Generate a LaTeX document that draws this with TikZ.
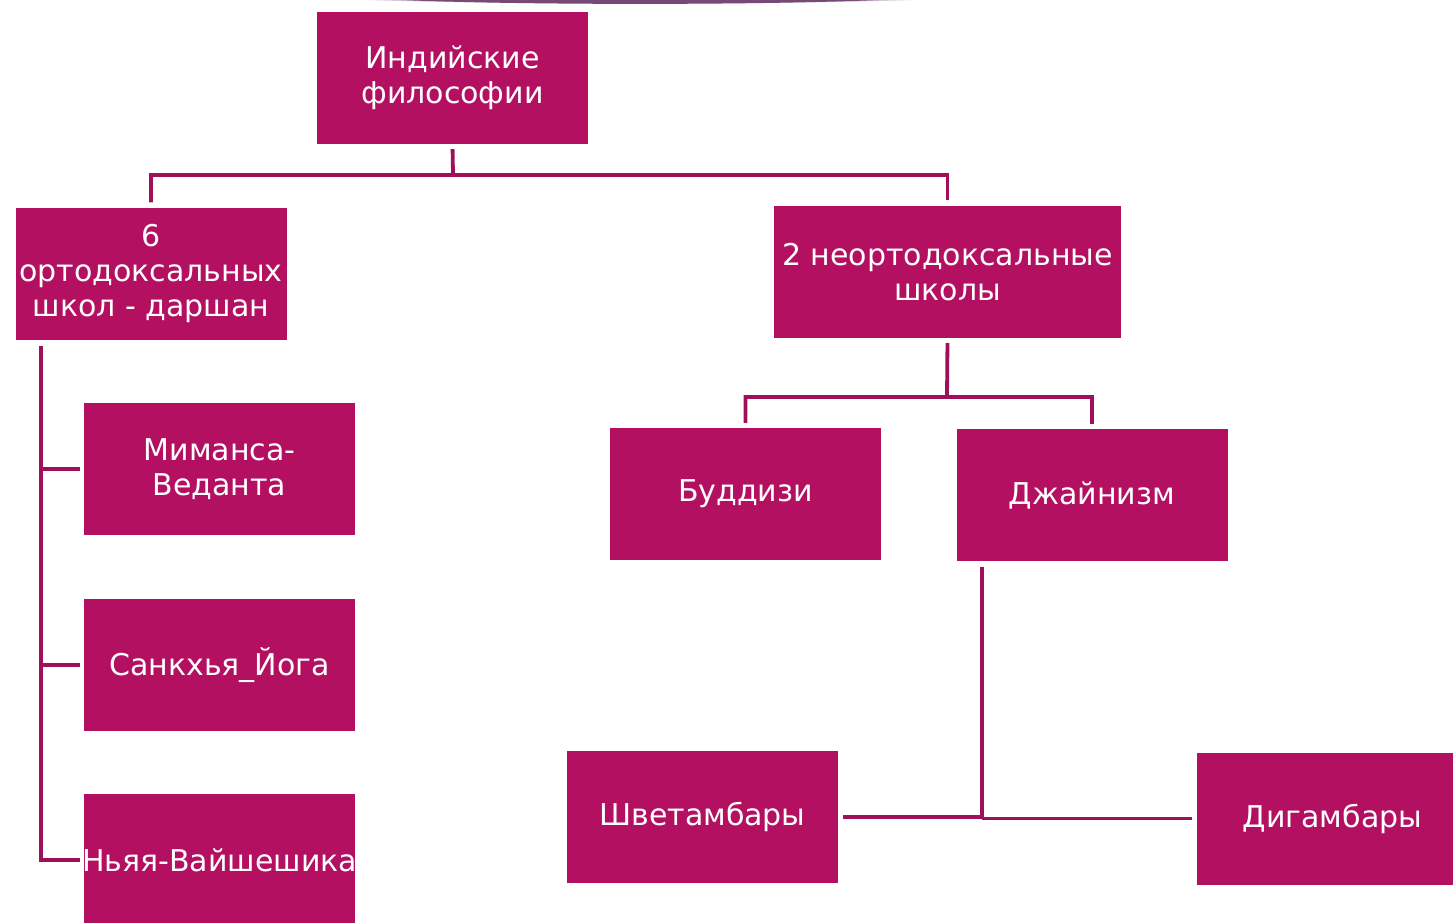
\documentclass[tikz,border=0pt]{standalone}
\usepackage{fontspec}
\setmainfont{DejaVu Sans}
\usepackage{tikz}
\usetikzlibrary{calc}
\definecolor{boxfill}{HTML}{B31062}
\definecolor{linkcol}{HTML}{A0105A}
\definecolor{arccol}{HTML}{5E2A5E}

\begin{document}
\begin{tikzpicture}[x=1pt, y=-1pt,
    school/.style={draw=none, fill=boxfill, text=white, align=center,
      minimum width=271pt, minimum height=132pt, inner sep=0pt,
      font=\fontsize{30}{35}\selectfont},
    link/.style={draw=linkcol, line width=3.8pt}]
    \clip (0,0) rectangle (1453,923);
    % slide decoration at the top
    \fill[arccol!25] (340,-1) -- (940,-1) .. controls (800,5) and (480,5) .. (340,-1);
    \fill[arccol!85] (380,-1) -- (900,-1) .. controls (780,5.5) and (500,5.5) .. (380,-1);
    \node[school] (IP) at (452.5,78) {Индийские\\философии};
    \node[school] (ORT) at (151,273.5) {6\\ортодоксальных\\школ - даршан};
    \node[school, minimum width=347pt] (NEO) at (947.5,272) {2 неортодоксальные\\школы};
    \node[school] (MV) at (219.5,469) {Миманса-\\Веданта};
    \node[school] (SY) at (219.5,665) {Санкхья\_Йога};
    \node[school] (NV) at (219.5,860) {\makebox[271pt]{Ньяя-Вайшешика}};
    \node[school] (BUD) at (745.5,494) {Буддизи};
    \node[school] (JAIN) at (1092,495) {Джайнизм};
    \node[school] (SHV) at (702.5,817) {Шветамбары};
    \node[school] (DIG) at (1332.5,818.5) {Дигамбары};
    \coordinate (tsplit) at (453,175);
    \coordinate (nsplit) at (947,397);
    \coordinate (spine) at (41,346);
    \coordinate (jspine) at (982,567);
    \path[link, shorten <=5pt, shorten >=5pt] (IP.south) -- (tsplit) -| (ORT.north);
      \path[link, shorten >=6pt] (tsplit) -| (NEO.north);
    \path[link, shorten <=5pt, shorten >=5pt] (NEO.south) -- (nsplit) -| (BUD.north);
      \path[link, shorten >=5pt] (nsplit) -| (JAIN.north);
    \path[link, shorten >=4pt] (spine) |- (NV.west);
      \path[link, shorten <=4pt] (MV.west) -- (MV.west -| spine);
      \path[link, shorten <=4pt] (SY.west) -- (SY.west -| spine);
    \path[link, shorten >=5pt] (jspine) |- (SHV.east);
      \path[link, shorten >=5pt] (jspine |- DIG.west) -- (DIG.west);
  \end{tikzpicture}
\end{document}
